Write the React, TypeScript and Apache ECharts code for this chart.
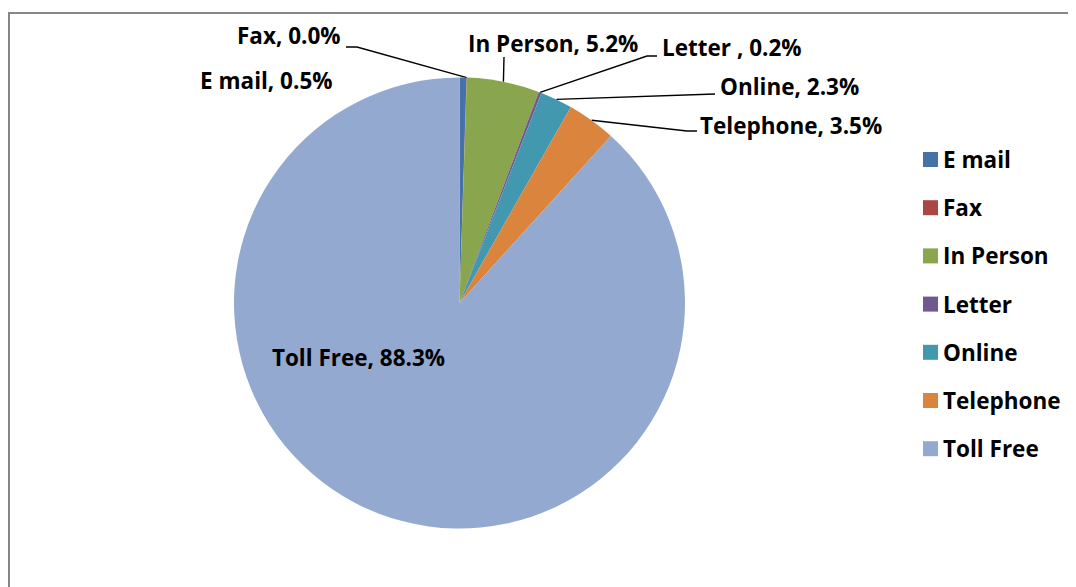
import React, { useEffect, useRef } from "react";
import * as echarts from "echarts";

const categories = ["E mail", "Fax", "In Person", "Letter ", "Online", "Telephone", "Toll Free"];
const values = [0.5, 0.02, 5.2, 0.2, 2.3, 3.5, 88.3];
const colors = ["#4573A7", "#AA4643", "#89A54E", "#71588F", "#4198AF", "#DB843D", "#93A9CF"];

// label layout (pixels, relative to the chart container)
const labelLayouts: any[] = [
  { x: 192, y: 72, align: "left", line: null },
  { x: 229, y: 27, align: "left", line: [[349, 39], [338, 39]] },
  { x: 460, y: 35, align: "left", line: [[496, 49]] },
  { x: 654, y: 39, align: "left", line: [[639, 48], [649, 48]] },
  { x: 712, y: 78, align: "left", line: [[707, 86]] },
  { x: 692, y: 117, align: "left", line: [[679, 123], [689, 123]] },
  { x: 350.5, y: 349, align: "center", line: null },
];

const FONT = "'Open Sans', 'Liberation Sans', sans-serif";
const FONT_SIZE = 22.5;

export default function App() {
  const ref = useRef<HTMLDivElement>(null);
  useEffect(() => {
    if (!ref.current) return;
    const chart = echarts.init(ref.current, null, { renderer: "svg" });
    const data = categories.map((name, i) => ({
      name,
      value: values[i],
      itemStyle: { color: colors[i] },
      label: { position: i === 6 ? "inside" : "outer" },
      labelLine: { show: labelLayouts[i].line !== null },
    }));
    chart.setOption({
      animation: false,
      backgroundColor: "#ffffff",
      graphic: [
        {
          type: "rect",
          shape: { x: 1, y: 5, width: 3000, height: 3000 },
          style: { fill: "none", stroke: "#868686", lineWidth: 2 },
          silent: true,
        },
      ],
      legend: {
        orient: "vertical",
        left: 910,
        top: 135,
        itemWidth: 15,
        itemHeight: 15,
        itemGap: 25.2,
        icon: "rect",
        selectedMode: false,
        formatter: (n: string) => n.trim(),
        textStyle: {
          fontFamily: FONT,
          fontWeight: "bold",
          fontSize: FONT_SIZE,
          lineHeight: 22,
          color: "#000",
        },
      },
      series: [
        {
          type: "pie",
          center: [451.5, 295],
          radius: 225.5,
          startAngle: 90,
          clockwise: true,
          avoidLabelOverlap: false,
          minShowLabelAngle: 0,
          stillShowZeroSum: true,
          itemStyle: { borderWidth: 0 },
          emphasis: { disabled: true },
          label: {
            show: true,
            fontFamily: FONT,
            fontWeight: "bold",
            fontSize: FONT_SIZE,
            color: "#000",
            formatter: (p: any) => `${p.name}, ${p.percent.toFixed(1)}%`,
          },
          labelLine: {
            show: true,
            lineStyle: { color: "#000", width: 1.4 },
          },
          labelLayout: (params: any) => {
            const L = labelLayouts[params.dataIndex];
            const res: any = { x: L.x, y: L.y, align: L.align, verticalAlign: "middle" };
            if (L.line && params.labelLinePoints) {
              const p0 = params.labelLinePoints[0];
              const pts = [[p0[0], p0[1]], ...L.line];
              while (pts.length < 3) pts.push(pts[pts.length - 1]);
              res.labelLinePoints = pts;
            }
            return res;
          },
          data,
        },
      ],
    });
    return () => chart.dispose();
  }, []);
  return <div ref={ref} style={{ width: 1068, height: 579 }} />;
}
